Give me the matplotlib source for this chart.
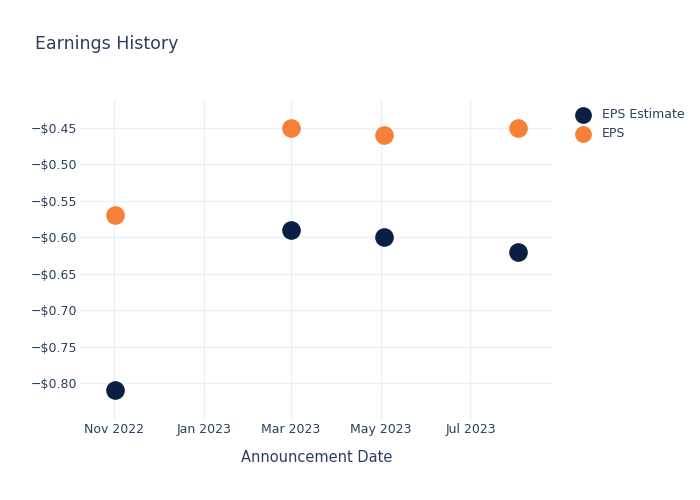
import matplotlib.pyplot as plt
import matplotlib.dates as mdates
import pandas as pd

dates = ["2022-11-02", "2023-03-01", "2023-05-03", "2023-08-02"]
eps_estimate = [-0.81, -0.59, -0.60, -0.62]
eps_actual = [-0.57, -0.45, -0.46, -0.45]
y_ticks = [-0.45, -0.50, -0.55, -0.60, -0.65, -0.70, -0.75, -0.80]

text_color = "#2a3f5f"
grid_color = "#ebf0f8"

x = pd.to_datetime(dates)

fig = plt.figure(figsize=(7, 5), dpi=100)
ax = fig.add_axes([80 / 700, 0.16, (553 - 80) / 700, 0.64])

ax.scatter(x, eps_estimate, s=180, color="#0c1f42", label="EPS Estimate", zorder=3, linewidths=0)
ax.scatter(x, eps_actual, s=180, color="#f68038", label="EPS", zorder=3, linewidths=0)

ax.set_xlim(pd.Timestamp("2022-10-09"), pd.Timestamp("2023-08-26"))
ax.set_ylim(-0.8508, -0.4116)

ax.xaxis.set_major_locator(mdates.MonthLocator(bymonth=[1, 3, 5, 7, 11]))
ax.xaxis.set_major_formatter(mdates.DateFormatter("%b %Y"))
ax.set_yticks(y_ticks)
ax.set_yticklabels(["\u2212$%.2f" % abs(v) for v in y_ticks])

ax.grid(True, color=grid_color, linewidth=1)
ax.set_axisbelow(True)
for s in ax.spines.values():
    s.set_visible(False)
ax.tick_params(length=0, colors=text_color, labelsize=9)
ax.tick_params(axis="x", pad=2)
ax.tick_params(axis="y", pad=2)

ax.set_xlabel("Announcement Date", color=text_color, fontsize=10.5, labelpad=10)
fig.text(35 / 700, 1 - 44 / 500, "Earnings History", color=text_color, fontsize=12.5, va="center")

leg = ax.legend(loc="upper left", bbox_to_anchor=(1.027, 0.99), frameon=False,
                fontsize=9, labelcolor=text_color, handletextpad=0.5,
                borderaxespad=0, labelspacing=0.5, markerscale=0.9)

fig.savefig("out.png", dpi=100)
